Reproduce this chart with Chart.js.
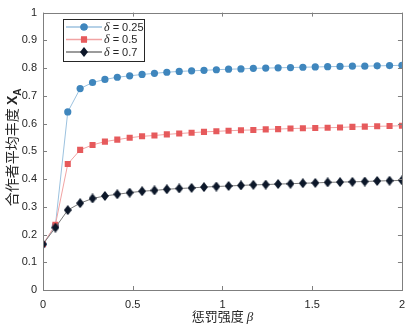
<!DOCTYPE html>
<html>
<head>
<meta charset="utf-8">
<script src="https://cdn.jsdelivr.net/npm/chart.js@4/dist/chart.umd.min.js"></script>
<style>
  html, body { margin: 0; padding: 0; background: #fff; }
  #wrap { width: 413px; height: 326px; }
</style>
</head>
<body>
<div id="wrap"><canvas id="myChart" width="413" height="326"></canvas></div>
<script>
// penalty strength beta (30 points between 0 and 2)
const beta = [0, 0.069, 0.138, 0.207, 0.276, 0.345, 0.414, 0.483, 0.552, 0.621,
              0.690, 0.759, 0.828, 0.897, 0.966, 1.034, 1.103, 1.172, 1.241, 1.310,
              1.379, 1.448, 1.517, 1.586, 1.655, 1.724, 1.793, 1.862, 1.931, 2];

const delta025 = [0.165, 0.232, 0.642, 0.726, 0.748, 0.759, 0.767, 0.772, 0.777, 0.781,
                  0.785, 0.788, 0.790, 0.792, 0.794, 0.796, 0.797, 0.799, 0.800, 0.801,
                  0.802, 0.803, 0.804, 0.805, 0.806, 0.807, 0.807, 0.808, 0.809, 0.810];
const delta05 = [0.165, 0.235, 0.454, 0.505, 0.523, 0.535, 0.542, 0.549, 0.554, 0.557,
                 0.561, 0.564, 0.567, 0.570, 0.572, 0.574, 0.576, 0.577, 0.579, 0.580,
                 0.582, 0.583, 0.584, 0.585, 0.586, 0.588, 0.589, 0.590, 0.591, 0.592];
const delta07 = [0.165, 0.225, 0.288, 0.313, 0.330, 0.339, 0.345, 0.351, 0.356, 0.359,
                 0.363, 0.366, 0.368, 0.371, 0.373, 0.375, 0.377, 0.379, 0.380, 0.382,
                 0.383, 0.385, 0.386, 0.388, 0.389, 0.390, 0.391, 0.393, 0.394, 0.395];

const legendValues = ['0.25', '0.5', '0.7'];
const xTicks = [0, 0.5, 1, 1.5, 2];
const yTicks = [0, 0.1, 0.2, 0.3, 0.4, 0.5, 0.6, 0.7, 0.8, 0.9, 1];

const axisColor = '#262626';
const frameColor = '#7f7f7f';

// matlab style diamond (taller than wide)
function makeDiamond(w, h, fill) {
    const c = document.createElement('canvas');
    c.width = w; c.height = h;
    const g = c.getContext('2d');
    g.fillStyle = fill;
    g.beginPath();
    g.moveTo(w / 2, 0);
    g.lineTo(w, h / 2);
    g.lineTo(w / 2, h);
    g.lineTo(0, h / 2);
    g.closePath();
    g.fill();
    return c;
}
const diamond = makeDiamond(8, 10, '#0c1729');

function pairs(ys) {
    return ys.map((y, i) => ({ x: beta[i], y: y }));
}

const datasets = [
    {
        data: pairs(delta07), order: 0,
        borderColor: '#7a7a7a', borderWidth: 1,
        pointStyle: diamond, pointRadius: 4,
        pointBackgroundColor: '#0c1729', pointBorderColor: '#0c1729'
    },
    {
        data: pairs(delta05), order: 1,
        borderColor: '#f1a3a3', borderWidth: 1,
        pointStyle: 'rect', pointRadius: 4.3, pointBorderWidth: 0,
        pointBackgroundColor: '#e65a5c', pointBorderColor: '#e65a5c'
    },
    {
        data: pairs(delta025), order: 2,
        borderColor: '#9cc2df', borderWidth: 1,
        pointStyle: 'circle', pointRadius: 3.6, pointBorderWidth: 0,
        pointBackgroundColor: '#3f86bd', pointBorderColor: '#3f86bd'
    }
];
// legend order: 0.25, 0.5, 0.7
const legendSets = [datasets[2], datasets[1], datasets[0]];

function drawMarker(ctx, ds, x, y) {
    if (ds.pointStyle === diamond) {
        ctx.drawImage(diamond, x - diamond.width / 2, y - diamond.height / 2);
        return;
    }
    Chart.helpers.drawPoint(ctx, { pointStyle: ds.pointStyle, radius: ds.pointRadius, rotation: 0, borderWidth: 0 }, x, y);
    ctx.fill();
}

const fmt = (v) => String(+v.toFixed(1));

const decorations = {
    id: 'decorations',
    afterDraw(chart) {
        const ctx = chart.ctx;
        const a = chart.chartArea;
        const xs = chart.scales.x, ys = chart.scales.y;
        ctx.save();

        // box + inward ticks on all four sides
        ctx.strokeStyle = frameColor;
        ctx.lineWidth = 1;
        ctx.strokeRect(Math.round(a.left) + 0.5, Math.round(a.top) + 0.5,
                       Math.round(a.right - a.left), Math.round(a.bottom - a.top));
        const tl = 4;
        ctx.beginPath();
        xTicks.forEach(v => {
            const px = Math.round(xs.getPixelForValue(v)) + 0.5;
            ctx.moveTo(px, a.bottom); ctx.lineTo(px, a.bottom - tl);
            ctx.moveTo(px, a.top); ctx.lineTo(px, a.top + tl);
        });
        yTicks.forEach(v => {
            const py = Math.round(ys.getPixelForValue(v)) + 0.5;
            ctx.moveTo(a.left, py); ctx.lineTo(a.left + tl, py);
            ctx.moveTo(a.right, py); ctx.lineTo(a.right - tl, py);
        });
        ctx.stroke();

        // legend
        const lx = 63.5, ly = 19.5, lw = 81, lh = 42;
        ctx.fillStyle = '#fff';
        ctx.fillRect(lx, ly, lw, lh);
        ctx.strokeStyle = axisColor;
        ctx.strokeRect(lx, ly, lw, lh);
        legendSets.forEach((ds, i) => {
            const ry = 27 + i * 12.5;
            ctx.strokeStyle = ds.borderColor;
            ctx.lineWidth = 1.5;
            ctx.beginPath();
            ctx.moveTo(66, ry); ctx.lineTo(102, ry);
            ctx.stroke();
            ctx.fillStyle = ds.pointBackgroundColor;
            drawMarker(ctx, ds, 84, ry);
            ctx.fillStyle = axisColor;
            ctx.textBaseline = 'middle';
            ctx.textAlign = 'left';
            ctx.font = 'italic 12px "Liberation Serif"';
            ctx.fillText('δ', 104, ry + 0.5);
            const dw = ctx.measureText('δ').width;
            ctx.font = '11px "Liberation Sans"';
            ctx.fillText(' = ' + legendValues[i], 104 + dw, ry + 0.5);
        });

        // x title
        ctx.fillStyle = axisColor;
        ctx.textBaseline = 'alphabetic';
        ctx.textAlign = 'left';
        ctx.font = '13px "Noto Sans CJK SC"';
        const xt = '惩罚强度 ';
        const w1 = ctx.measureText(xt).width;
        ctx.font = 'italic 13px "Liberation Serif"';
        const w2 = ctx.measureText('β').width;
        const cx = (a.left + a.right) / 2;
        let sx = cx - (w1 + w2) / 2;
        ctx.font = '13px "Noto Sans CJK SC"';
        ctx.fillText(xt, sx, 321);
        ctx.font = 'italic 13px "Liberation Serif"';
        ctx.fillText('β', sx + w1, 321);

        // y title (rotated)
        ctx.translate(17, (a.top + a.bottom) / 2 - 4);
        ctx.rotate(-Math.PI / 2);
        ctx.font = '14px "Noto Sans CJK SC"';
        const yt = '合作者平均丰度 ';
        const t1 = ctx.measureText(yt).width;
        ctx.font = 'bold 14px "Liberation Sans"';
        const t2 = ctx.measureText('X').width;
        ctx.font = 'bold 10px "Liberation Sans"';
        const t3 = ctx.measureText('A').width;
        let s = -(t1 + t2 + t3) / 2;
        ctx.font = '14px "Noto Sans CJK SC"';
        ctx.fillText(yt, s, 0);
        ctx.font = 'bold 14px "Liberation Sans"';
        ctx.fillText('X', s + t1, 0);
        ctx.font = 'bold 10px "Liberation Sans"';
        ctx.fillText('A', s + t1 + t2, 4);

        ctx.restore();
    }
};

new Chart(document.getElementById('myChart'), {
    type: 'line',
    data: { datasets: datasets },
    options: {
        responsive: false,
        animation: false,
        layout: { padding: { top: 6, right: 9, left: 0, bottom: 0 } },
        plugins: { legend: { display: false }, tooltip: { enabled: false } },
        scales: {
            x: {
                type: 'linear', min: 0, max: 2,
                afterFit: (s) => { s.height = 36; },
                afterBuildTicks: (s) => { s.ticks = xTicks.map(v => ({ value: v })); },
                grid: { display: false, drawTicks: false },
                border: { display: false },
                ticks: { padding: 8, color: axisColor, font: { family: 'Liberation Sans', size: 11 }, maxRotation: 0, callback: fmt }
            },
            y: {
                type: 'linear', min: 0, max: 1,
                afterFit: (s) => { s.width = 43; },
                afterBuildTicks: (s) => { s.ticks = yTicks.map(v => ({ value: v })); },
                grid: { display: false, drawTicks: false },
                border: { display: false },
                ticks: { padding: 6, color: axisColor, font: { family: 'Liberation Sans', size: 11 }, callback: fmt }
            }
        }
    },
    plugins: [decorations]
});
</script>
</body>
</html>
